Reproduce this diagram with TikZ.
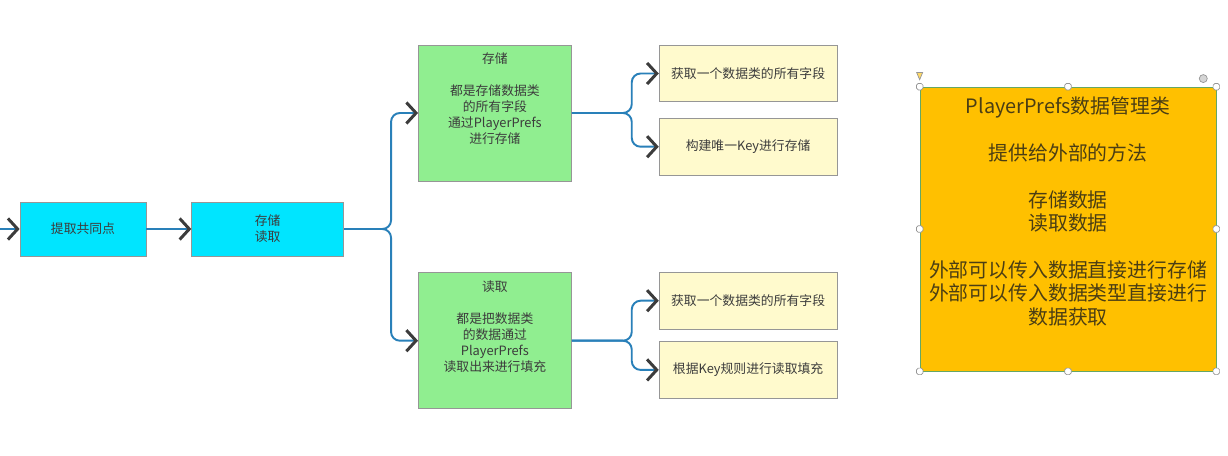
\documentclass[tikz,border=0pt]{standalone}
\usepackage{fontspec}
\setmainfont{Noto Sans CJK SC}
\usepackage{tikz}
\usetikzlibrary{positioning, shapes.geometric, arrows.meta, calc}
\definecolor{flowcyan}{RGB}{0, 229, 255}
\definecolor{stepgreen}{RGB}{144, 238, 144}
\definecolor{notecream}{RGB}{255, 250, 205}
\definecolor{mgrorange}{RGB}{255, 192, 0}
\definecolor{linkblue}{RGB}{41, 128, 185}
\definecolor{edgegray}{RGB}{150, 150, 150}
\definecolor{inkgray}{RGB}{60, 60, 60}
\definecolor{inkolive}{RGB}{75, 62, 20}

\begin{document}
\begin{tikzpicture}[node distance=0.5cm,
    every node/.style={font=\fontsize{7.3}{9.1}\selectfont, text=inkgray},
    cyanbox/.style={draw=edgegray, fill=flowcyan, rectangle, minimum height=1.08cm, align=center},
    greenbox/.style={draw=edgegray, fill=stepgreen, rectangle, minimum width=3.06cm, minimum height=2.72cm},
    creambox/.style={draw=edgegray, fill=notecream, rectangle, minimum width=3.56cm, minimum height=1.13cm},
    boxtext/.style={align=center, inner sep=0pt, anchor=north},
    link/.style={draw=linkblue, line width=1.1pt, rounded corners=5pt,
        -{Straight Barb[length=5.5pt, width=12pt, line width=1.7pt, color=inkgray]}},
    handle/.style={draw=edgegray, fill=white, rectangle, rounded corners=1pt, minimum size=0.13cm, inner sep=0pt}]
    \useasboundingbox (0,0) rectangle (24.56,-9.12);

    % Left chain
    \coordinate (entry) at (0,-4.58);
    \node [cyanbox, minimum width=2.52cm] (extract) at (1.66,-4.58) {提取共同点};
    \node [cyanbox, minimum width=3.04cm, right=0.9cm of extract] (saveload) {存储\\读取};

    % Save / load steps
    \node [greenbox, right=1.48cm of saveload, yshift=2.32cm] (save) {};
    \node [boxtext, below=0.16cm of save.north] (savetext) {存储\\[9.1pt]都是存储数据类\\的所有字段\\通过PlayerPrefs\\进行存储};
    \node [greenbox, below=1.82cm of save] (load) {};
    \node [boxtext, below=0.16cm of load.north] (loadtext) {读取\\[9.1pt]都是把数据类\\的数据通过\\PlayerPrefs\\读取出来进行填充};

    % Detail notes
    \node [creambox, right=1.74cm of save, yshift=0.79cm] (getfields) {获取一个数据类的所有字段};
    \node [creambox, below=0.32cm of getfields] (buildkey) {构建唯一Key进行存储};
    \node [creambox, right=1.74cm of load, yshift=0.8cm] (getfields2) {获取一个数据类的所有字段};
    \node [creambox, below=0.24cm of getfields2] (readkey) {根据Key规则进行读取填充};

    % Manager class box
    \node [draw=stepgreen!70!black, fill=mgrorange, rectangle, minimum width=5.92cm, minimum height=5.68cm] (manager) at (21.36,-4.58) {};
    \node [boxtext, text=inkolive, font=\fontsize{11.3}{13.3}\selectfont, below=0.2cm of manager.north] (managertext)
        {PlayerPrefs数据管理类\\[13.3pt]提供给外部的方法\\[13.3pt]存储数据\\读取数据\\[13.3pt]外部可以传入数据直接进行存储\\外部可以传入数据类型直接进行\\数据获取};
    \foreach \a in {north west, north, north east, west, east, south west, south, south east}
        \node [handle] at (manager.\a) {};
    \node [draw=edgegray, fill=edgegray!40, circle, minimum size=0.16cm, inner sep=0pt, above left=0.1cm and 0.2cm of manager.north east] (rotator) {};
    \node [draw=edgegray, fill=mgrorange!60, isosceles triangle, shape border rotate=-90, minimum size=0.12cm, inner sep=0pt, above=0.12cm of manager.north west] (pin) {};

    % Connectors
    \draw [link] (entry) -- (extract);
    \draw [link] (extract) -- (saveload);
    \coordinate (forkA) at ($(saveload.east)+(0.94,0)$);
    \draw [link] (saveload.east) -- (forkA) |- (save.west);
    \draw [link] (saveload.east) -- (forkA) |- (load.west);
    \coordinate (forkB) at ($(save.east)+(1.2,0)$);
    \draw [link] (save.east) -- (forkB) |- (getfields.west);
    \draw [link] (save.east) -- (forkB) |- (buildkey.west);
    \coordinate (forkC) at ($(load.east)+(1.2,0)$);
    \draw [link] (load.east) -- (forkC) |- (getfields2.west);
    \draw [link] (load.east) -- (forkC) |- (readkey.west);
\end{tikzpicture}
\end{document}
